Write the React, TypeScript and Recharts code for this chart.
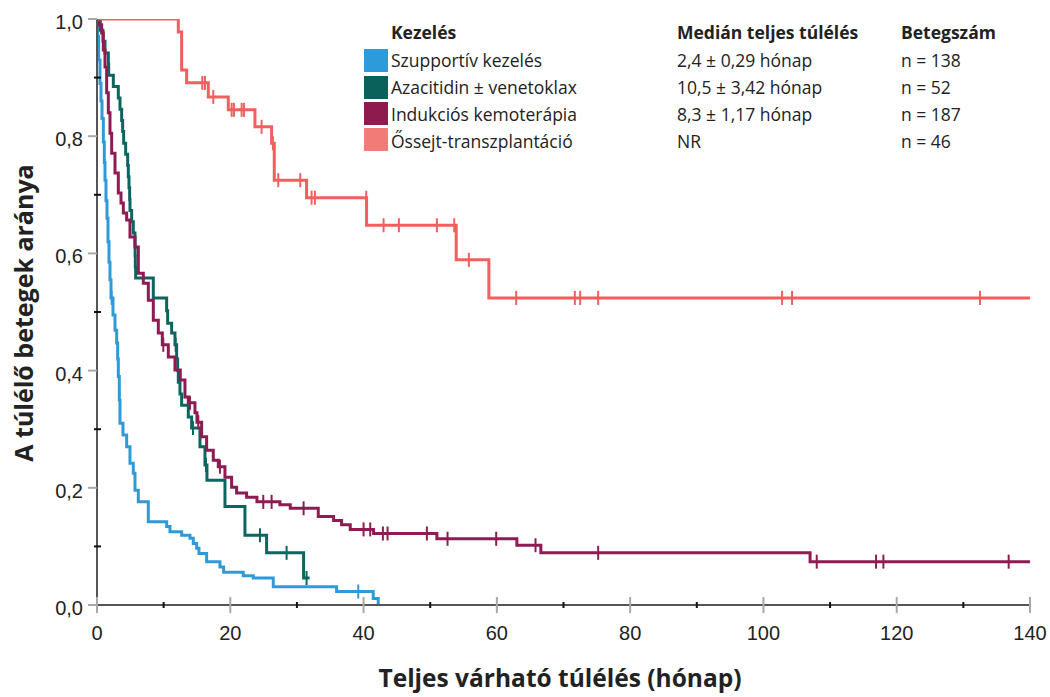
import React from 'react';
import { ComposedChart, Line, Scatter, XAxis, YAxis } from 'recharts';

const W = 1050;
const H = 697;

// Szupportív kezelés
const supportiveTime = [0, 0.1, 0.25, 0.45, 0.6, 0.75, 0.95, 1.1, 1.2, 1.35, 1.5, 1.65, 1.8, 1.95, 2.1, 2.4, 2.7, 2.95, 3.1, 3.2, 3.35, 3.45, 3.9, 4.45, 4.95, 5.45, 5.7, 6.2, 7.7, 10.45, 10.95, 12.7, 13.95, 14.45, 14.95, 15.3, 16.45, 18.45, 19.0, 21.95, 23.45, 26.45, 35.95, 41.45, 42.2];
const supportiveSurv = [1, 0.97, 0.93, 0.89, 0.86, 0.83, 0.79, 0.755, 0.725, 0.69, 0.66, 0.62, 0.585, 0.555, 0.524, 0.495, 0.469, 0.447, 0.42, 0.39, 0.35, 0.31, 0.29, 0.27, 0.242, 0.225, 0.196, 0.176, 0.142, 0.134, 0.125, 0.119, 0.114, 0.105, 0.097, 0.088, 0.074, 0.065, 0.056, 0.05, 0.046, 0.031, 0.023, 0.011, 0];
const supportiveCensor = [2.2, 39.2];
const supportiveEnd = 42.2;

// Azacitidin ± venetoklax
const azaTime = [0, 0.5, 0.9, 1.2, 1.7, 1.75, 2.45, 3.2, 3.45, 3.7, 3.85, 4.0, 4.3, 4.6, 4.7, 4.8, 4.9, 4.95, 5.2, 5.45, 5.7, 5.72, 5.75, 5.8, 8.45, 10.45, 10.6, 11.2, 11.7, 11.95, 12.1, 12.2, 12.45, 12.7, 13.7, 14.2, 15.45, 16.2, 16.5, 19.2, 22.2, 25.45, 31.0];
const azaSurv = [1, 0.981, 0.962, 0.942, 0.923, 0.904, 0.885, 0.865, 0.846, 0.827, 0.808, 0.788, 0.769, 0.75, 0.731, 0.712, 0.692, 0.673, 0.654, 0.635, 0.615, 0.596, 0.577, 0.558, 0.524, 0.502, 0.481, 0.464, 0.444, 0.42, 0.4, 0.38, 0.36, 0.341, 0.321, 0.302, 0.27, 0.239, 0.213, 0.168, 0.119, 0.089, 0.046];
const azaCensor = [11.8, 14.4, 16.35, 24.45, 28.45, 31.45];
const azaEnd = 31.9;

// Indukciós kemoterápia
const inductionTime = [0, 0.3, 0.7, 0.95, 1.2, 1.45, 1.7, 1.95, 2.2, 2.7, 3.2, 3.6, 3.95, 4.45, 4.95, 5.7, 6.2, 6.95, 7.7, 8.45, 9.2, 9.8, 10.7, 11.7, 12.5, 13.2, 13.7, 14.7, 15.0, 15.7, 16.45, 17.45, 18.2, 19.2, 20.2, 20.95, 22.45, 24.0, 27.45, 29.0, 33.2, 35.5, 36.7, 38.0, 41.5, 51.0, 63.0, 66.6, 107.0];
const inductionSurv = [1, 0.99, 0.976, 0.947, 0.918, 0.874, 0.84, 0.805, 0.771, 0.737, 0.703, 0.686, 0.669, 0.657, 0.628, 0.611, 0.566, 0.549, 0.52, 0.486, 0.464, 0.444, 0.423, 0.401, 0.384, 0.355, 0.345, 0.328, 0.312, 0.287, 0.264, 0.247, 0.236, 0.218, 0.201, 0.191, 0.184, 0.176, 0.171, 0.165, 0.151, 0.144, 0.137, 0.129, 0.122, 0.113, 0.102, 0.089, 0.074];
const inductionCensor = [9.95, 13.95, 15.2, 18.45, 24.95, 26.2, 31.0, 40.0, 41.0, 42.9, 43.6, 49.5, 52.6, 59.9, 65.8, 75.2, 108.0, 116.9, 118.0, 136.8];
const inductionEnd = 140;

// Őssejt-transzplantáció
const transplantTime = [0, 12.2, 12.7, 13.45, 16.7, 19.7, 23.7, 26.2, 26.6, 31.45, 40.45, 53.9, 58.8];
const transplantSurv = [1, 0.978, 0.913, 0.891, 0.867, 0.845, 0.816, 0.788, 0.725, 0.695, 0.648, 0.589, 0.524];
const transplantCensor = [15.8, 16.2, 17.45, 20.2, 20.55, 21.7, 22.05, 24.7, 26.4, 27.2, 30.5, 32.2, 32.7, 40.4, 43.0, 45.3, 51.0, 53.6, 55.8, 62.9, 71.7, 72.5, 75.2, 102.8, 104.3, 132.5];
const transplantEnd = 140;

// Legend
const legendNames = ['Szupportív kezelés', 'Azacitidin ± venetoklax', 'Indukciós kemoterápia', 'Őssejt-transzplantáció'];
const legendMedians = ['2,4 ± 0,29 hónap', '10,5 ± 3,42 hónap', '8,3 ± 1,17 hónap', 'NR'];
const legendCounts = ['n = 138', 'n = 52', 'n = 187', 'n = 46'];
const legendHeaders = ['Kezelés', 'Medián teljes túlélés', 'Betegszám'];

const xTicks = [0, 10, 20, 30, 40, 50, 60, 70, 80, 90, 100, 110, 120, 130, 140];
const yTicks = [0, 0.1, 0.2, 0.3, 0.4, 0.5, 0.6, 0.7, 0.8, 0.9, 1.0];

const xTitle = 'Teljes várható túlélés (hónap)';
const yTitle = 'A túlélő betegek aránya';

const lineColors = ['#2f9ad8', '#0c665f', '#8e1c53', '#f25f5e'];
const swatchColors = ['#2d9bd9', '#0a615c', '#8e1a4e', '#f27b78'];

type Pt = { t: number; s: number };

function buildSteps(times: number[], surv: number[], end: number): Pt[] {
  const pts = times.map((t, i) => ({ t, s: surv[i] }));
  if (end > times[times.length - 1]) pts.push({ t: end, s: surv[surv.length - 1] });
  return pts;
}

function censorPoints(times: number[], surv: number[], censor: number[]): Pt[] {
  return censor.map((c) => {
    let v = surv[0];
    for (let i = 0; i < times.length; i++) if (times[i] <= c) v = surv[i];
    return { t: c, s: v };
  });
}

const series = [
  { steps: buildSteps(supportiveTime, supportiveSurv, supportiveEnd), cens: censorPoints(supportiveTime, supportiveSurv, supportiveCensor) },
  { steps: buildSteps(azaTime, azaSurv, azaEnd), cens: censorPoints(azaTime, azaSurv, azaCensor) },
  { steps: buildSteps(inductionTime, inductionSurv, inductionEnd), cens: censorPoints(inductionTime, inductionSurv, inductionCensor) },
  { steps: buildSteps(transplantTime, transplantSurv, transplantEnd), cens: censorPoints(transplantTime, transplantSurv, transplantCensor) },
];

const tickFont = '"Liberation Sans", Arial, sans-serif';
const legendFont = '"Open Sans", sans-serif';

const XTick = (props: any) => {
  const { x, y, payload } = props;
  const v = payload.value as number;
  const major = Math.round(v) % 20 === 0;
  return (
    <g>
      {major ? (
        <line x1={x} x2={x} y1={y - 8} y2={y + 8} stroke="#a8a8a8" strokeWidth={2} />
      ) : (
        <line x1={x} x2={x} y1={y - 3} y2={y + 3} stroke="#111" strokeWidth={2} />
      )}
      {major && (
        <text x={x} y={y + 35} textAnchor="middle" fontFamily={tickFont} fontSize={20} fill="#222">
          {v}
        </text>
      )}
    </g>
  );
};

const YTick = (props: any) => {
  const { x, y, payload } = props;
  const v = payload.value as number;
  const major = Math.round(v * 10) % 2 === 0;
  return (
    <g>
      {major ? (
        <line x1={x - 9} x2={x} y1={y} y2={y} stroke="#a8a8a8" strokeWidth={2} />
      ) : (
        <line x1={x - 3} x2={x + 4} y1={y} y2={y} stroke="#111" strokeWidth={2} />
      )}
      {major && (
        <text x={x - 14} y={y + 10} textAnchor="end" fontFamily={tickFont} fontSize={20} fill="#222">
          {v.toFixed(1).replace('.', ',')}
        </text>
      )}
    </g>
  );
};

const makeCensor = (color: string) => (p: any) => (
  <line x1={p.cx} x2={p.cx} y1={p.cy - 7} y2={p.cy + 7} stroke={color} strokeWidth={2} />
);

export default function App() {
  const rowBase = [67, 94, 121, 148];
  const swatchTop = [49, 76, 102, 128];
  return (
    <div style={{ position: 'absolute', left: 0, top: 0, width: W, height: H, background: '#fff' }}>
      <ComposedChart width={W} height={H} margin={{ top: 19, right: 20, bottom: 0, left: 0 }}>
        <XAxis
          dataKey="t"
          type="number"
          domain={[0, 140]}
          ticks={xTicks}
          interval={0}
          height={92}
          tickLine={false}
          tickSize={0}
          tickMargin={0}
          axisLine={{ stroke: '#555', strokeWidth: 2 }}
          tick={<XTick />}
          allowDataOverflow
        />
        <YAxis
          type="number"
          domain={[0, 1]}
          ticks={yTicks}
          interval={0}
          width={97}
          tickLine={false}
          tickSize={0}
          tickMargin={0}
          axisLine={{ stroke: '#555', strokeWidth: 2 }}
          tick={<YTick />}
          allowDataOverflow
        />
        {series.map((s, i) => (
          <Line
            key={'l' + i}
            data={s.steps}
            dataKey="s"
            type="stepAfter"
            stroke={lineColors[i]}
            strokeWidth={3}
            dot={false}
            activeDot={false}
            isAnimationActive={false}
          />
        ))}
        {series.map((s, i) => (
          <Scatter
            key={'c' + i}
            data={s.cens}
            dataKey="s"
            shape={makeCensor(lineColors[i])}
            isAnimationActive={false}
          />
        ))}
      </ComposedChart>
      <svg width={W} height={H} style={{ position: 'absolute', left: 0, top: 0, pointerEvents: 'none' }}>
        <text
          transform="translate(33,313) rotate(-90)"
          textAnchor="middle"
          fontFamily={legendFont}
          fontWeight="bold"
          fontSize={25}
          fill="#222"
        >
          {yTitle}
        </text>
        <text x={560} y={687} textAnchor="middle" fontFamily={legendFont} fontWeight="bold" fontSize={24.5} fill="#222">
          {xTitle}
        </text>
        {legendHeaders.map((h, i) => (
          <text key={h} x={[391, 677, 901][i]} y={39} fontFamily={legendFont} fontWeight="bold" fontSize={17.5} fill="#222">
            {h}
          </text>
        ))}
        {legendNames.map((n, i) => (
          <g key={n}>
            <rect x={364} y={swatchTop[i]} width={24} height={23} fill={swatchColors[i]} />
            <text x={391} y={rowBase[i]} fontFamily={legendFont} fontSize={17.5} fill="#222">
              {n}
            </text>
            <text x={677} y={rowBase[i]} fontFamily={legendFont} fontSize={17.5} fill="#222">
              {legendMedians[i]}
            </text>
            <text x={901} y={rowBase[i]} fontFamily={legendFont} fontSize={17.5} fill="#222">
              {legendCounts[i]}
            </text>
          </g>
        ))}
      </svg>
    </div>
  );
}
